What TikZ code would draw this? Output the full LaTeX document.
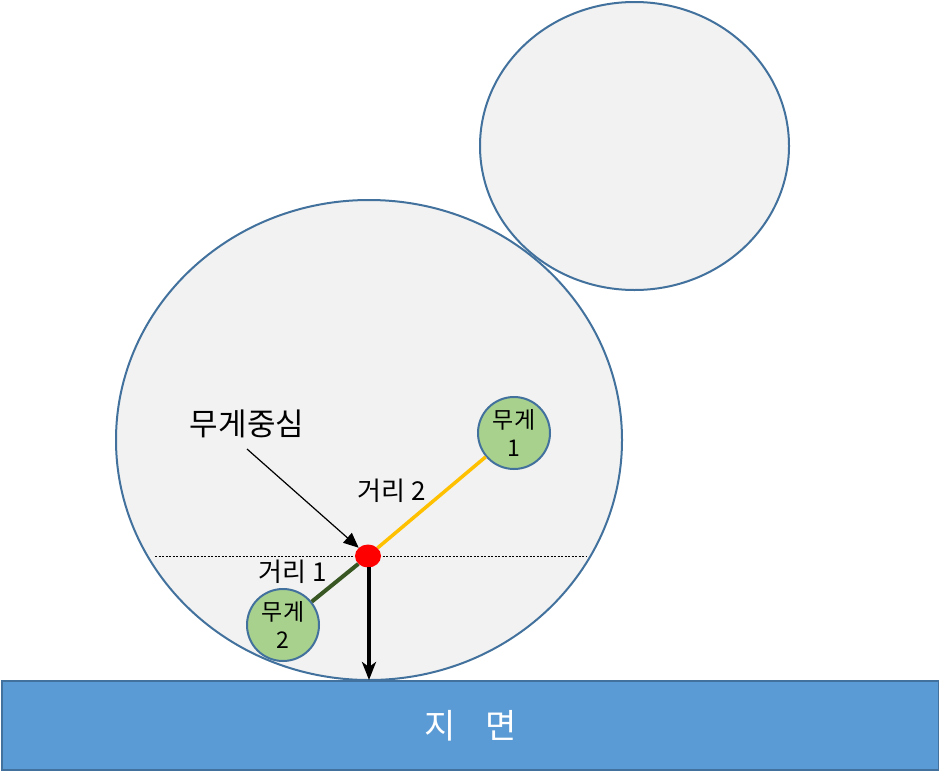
\documentclass[tikz,border=0pt]{standalone}
\usepackage{fontspec}
\setmainfont{Noto Sans CJK KR}
\usetikzlibrary{arrows.meta,shapes.geometric}
\definecolor{bodyfill}{HTML}{F2F2F2}
\definecolor{edge}{HTML}{41719C}
\definecolor{ground}{HTML}{5B9BD5}
\definecolor{weightfill}{HTML}{A9D18E}
\definecolor{orangeline}{HTML}{FFC000}
\definecolor{greenline}{HTML}{385723}
\tikzset{
  weight/.style={circle, draw=edge, fill=weightfill, line width=2pt, minimum size=72pt, inner sep=0pt, align=center, font=\fontsize{23}{28}\selectfont},
  lbl/.style={inner sep=0pt, font=\fontsize{26}{28}\selectfont},
}
\begin{document}
\begin{tikzpicture}[x=1pt,y=-1pt]
\useasboundingbox (0,0) rectangle (939,771);
% bodies
\draw[draw=edge, fill=bodyfill, line width=2pt] (634.5,146) ellipse [x radius=154.5, y radius=144];
\draw[draw=edge, fill=bodyfill, line width=2pt] (369,440) ellipse [x radius=253, y radius=240];
% ground
\node[draw=edge, fill=ground, line width=2.2pt, minimum width=937pt, minimum height=89pt, inner sep=0pt, anchor=north west, text=white, font=\fontsize{34}{36}\selectfont] (ground) at (1,680) {지\hspace{0.9em}면};
% dotted line
\coordinate (dl) at (155,556);
\coordinate (dr) at (587,556);
\draw[dash pattern=on 2pt off 1.5pt, line width=1pt] (dl) -- (dr);
% weights
\node[weight] (w1) at (514,433) {무게\\1};
\node[weight] (w2) at (283,625) {무게\\2};
% center of mass
\node[ellipse, fill=red, minimum width=26pt, minimum height=23pt, inner sep=0pt] (cm) at (368,556) {};
\draw[orangeline, line width=3.5pt] (cm) -- (w1);
\draw[greenline, line width=4pt] (cm) -- (w2);
\coordinate (gtop) at (369,680);
\draw[line width=3.5pt, -{Stealth[length=18pt,width=14pt,inset=5pt]}] (369,567) -- (gtop);
% labels
\node[inner sep=0pt, font=\fontsize{31}{34}\selectfont] (cmlabel) at (247,424) {무게중심};
\coordinate (astart) at (247,449);
\draw[line width=1.2pt, -{Triangle[length=15pt,width=13pt]}] (astart) -- (cm.north west);
\node[lbl] (d2) at (392,491) {거리 2};
\node[lbl] (d1) at (293,572) {거리 1};
\end{tikzpicture}
\end{document}
